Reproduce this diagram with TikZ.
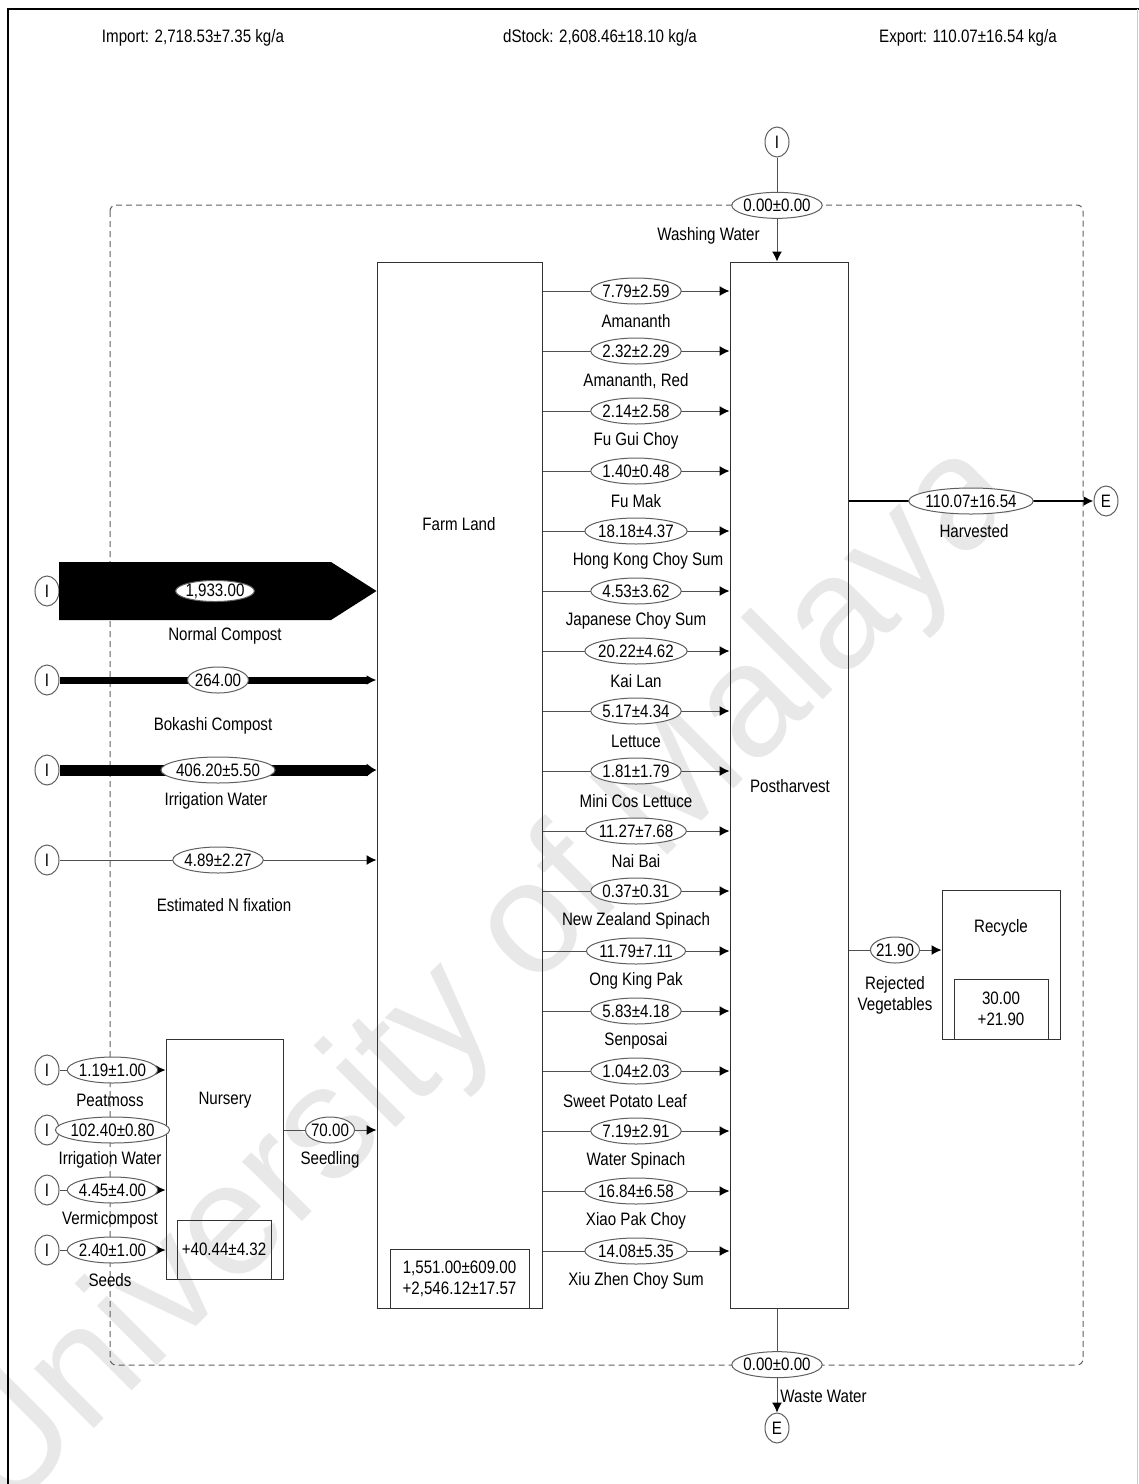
\documentclass[tikz,border=0pt]{standalone}
\usepackage{fontspec}
\setmainfont{Liberation Sans}[FakeStretch=0.84]
\newfontfamily\markfont{Liberation Sans}
\usetikzlibrary{arrows.meta,shapes.geometric,positioning}
\definecolor{LineGray}{RGB}{80,80,80}
\definecolor{EdgeGray}{RGB}{95,95,95}
\definecolor{BoxGray}{RGB}{50,50,50}
\definecolor{MarkGray}{RGB}{232,232,232}

\begin{document}
\begin{tikzpicture}[x=0.5pt,y=-0.5pt,>=Latex,
    font=\fontsize{9}{10.5}\selectfont,
    proc/.style={draw=BoxGray,line width=0.5pt,inner sep=0pt},
    stockbox/.style={draw=BoxGray,line width=0.5pt,inner sep=0pt,align=center},
    val/.style={ellipse,draw=EdgeGray,fill=white,line width=0.5pt,inner sep=0pt,inner xsep=-0.8pt,minimum height=13pt},
    term/.style={ellipse,draw=EdgeGray,fill=white,line width=0.5pt,inner sep=0pt,minimum width=12pt,minimum height=15pt},
    flow/.style={draw=LineGray,line width=0.5pt,-{Latex[length=5pt,width=5pt,color=black]}},
    lbl/.style={inner sep=0pt,align=center}]
  \useasboundingbox (0,0) rectangle (1139,1484);
  \node[rotate=45,text=MarkGray,font=\markfont\fontsize{80}{80}\selectfont] at (485,980) {University of Malaya};
  % page frame
  \draw[line width=1.2pt] (8,1484) -- (8,9) -- (1139,9);
  \draw[black!20] (1137,9) -- (1137,1484);
  \node at (193,38) {Import: 2,718.53±7.35 kg/a};
  \node at (600,38) {dStock: 2,608.46±18.10 kg/a};
  \node at (968,38) {Export: 110.07±16.54 kg/a};
  % system boundary
  \draw[EdgeGray,line width=0.5pt,dash pattern=on 3pt off 2pt,rounded corners=3pt] (110,205) rectangle (1083,1365);
  % processes
  \node[proc,minimum width=82.5pt,minimum height=523pt] (farm) at (459.5,785) {};
  \node[lbl] at (459,524) {Farm Land};
  \node[stockbox,minimum width=69.5pt,minimum height=29.5pt] (farmstock) at (459.5,1278.5) {1,551.00±609.00\\+2,546.12±17.57};
  \node[proc,minimum width=59pt,minimum height=523pt] (post) at (789,785) {};
  \node[lbl] at (790,786) {Postharvest};
  \node[proc,minimum width=59pt,minimum height=74.5pt] (recycle) at (1001,964.5) {};
  \node[lbl] at (1001,928) {Recycle};
  \node[stockbox,minimum width=47pt,minimum height=30pt] (recstock) at (1001,1009) {30.00\\+21.90};
  \node[proc,minimum width=58.5pt,minimum height=120pt] (nursery) at (224.5,1159) {};
  \node[lbl] at (225,1100) {Nursery};
  \node[stockbox,minimum width=47pt,minimum height=29.5pt] (nurstock) at (224,1249.5) {+40.44±4.32};
  % washing water in, waste water out
  \node[term] (iw) at (777,142) {I};
  \draw[flow] (iw) -- node[val,pos=0.46] (vwash) {0.00±0.00} (iw |- post.north);
  \node[lbl,anchor=east] at (760,236) {Washing Water};
  \node[term] (ew) at (777,1428) {E};
  \draw[flow] (ew |- post.south) -- node[val,pos=0.54] (vwaste) {0.00±0.00} (ew);
  \node[lbl,anchor=west] at (780,1396) {Waste Water};
  % inputs to farm land
  \node[term] (inc) at (47,591) {I};
  \fill (59,562) -- (331,562) -- (farm.west |- inc) -- (331,620) -- (59,620) -- cycle;
  \node[val,minimum height=0pt] (vnc) at (215,591) {1,933.00};
  \node[lbl] at (225,636) {Normal Compost};
  \node[term] (ibk) at (47,680) {I};
  \draw[line width=3.5pt,-{Latex[length=5pt,width=5pt]}] (ibk) -- node[val] (vbk) {264.00} (farm.west |- ibk);
  \node[lbl] at (213,726) {Bokashi Compost};
  \node[term] (iiw) at (47,770) {I};
  \draw[line width=5.5pt,-{Latex[length=5pt,width=7pt]}] (iiw) -- node[val] (viw) {406.20±5.50} (farm.west |- iiw);
  \node[lbl] at (216,801) {Irrigation Water};
  \node[term] (inf) at (47,860) {I};
  \draw[flow] (inf) -- node[val] (vnf) {4.89±2.27} (farm.west |- inf);
  \node[lbl] at (224,905) {Estimated N fixation};
  % inputs to nursery
  \foreach \amt/\src/\yy [count=\i] in {1.19±1.00/Peatmoss/1070, 102.40±0.80/Irrigation Water/1130,
      4.45±4.00/Vermicompost/1190, 2.40±1.00/Seeds/1250}{
    \node[term] (in\i) at (47,\yy) {I};
    \draw[flow] (in\i) -- node[val] (vn\i) {\amt} (nursery.west |- in\i);
    \node[lbl] at (110,\yy+30) {\src};
  }
  \coordinate (sd) at (330,1130);
  \draw[flow] (nursery.east |- sd) -- node[val] (vsd) {70.00} (farm.west |- sd);
  \node[lbl] at (330,1160) {Seedling};
  % crops from farm land to postharvest
  \foreach \amt/\crop/\dx [count=\i from 0] in {7.79±2.59/Amananth/0, 2.32±2.29/{Amananth, Red}/0,
      2.14±2.58/Fu Gui Choy/0, 1.40±0.48/Fu Mak/0, 18.18±4.37/Hong Kong Choy Sum/12,
      4.53±3.62/Japanese Choy Sum/0, 20.22±4.62/Kai Lan/0, 5.17±4.34/Lettuce/0,
      1.81±1.79/Mini Cos Lettuce/0, 11.27±7.68/Nai Bai/0, 0.37±0.31/New Zealand Spinach/0,
      11.79±7.11/Ong King Pak/0, 5.83±4.18/Senposai/0, 1.04±2.03/Sweet Potato Leaf/-11,
      7.19±2.91/Water Spinach/0, 16.84±6.58/Xiao Pak Choy/0, 14.08±5.35/Xiu Zhen Choy Sum/0}{
    \coordinate (c\i) at (636,291+60*\i);
    \draw[flow] (farm.east |- c\i) -- node[val] (v\i) {\amt} (post.west |- c\i);
    \node[lbl] at (636+\dx,321+60*\i) {\crop};
  }
  % outputs of postharvest
  \node[term] (eh) at (1106,501) {E};
  \draw[flow,draw=black,line width=1.25pt] (post.east |- eh) -- node[val] (vh) {110.07±16.54} (eh);
  \node[lbl] at (974,531) {Harvested};
  \coordinate (rj) at (895,950);
  \draw[flow] (post.east |- rj) -- node[val] (vrj) {21.90} (recycle.west |- rj);
  \node[lbl] at (895,995) {Rejected\\Vegetables};
\end{tikzpicture}
\end{document}
